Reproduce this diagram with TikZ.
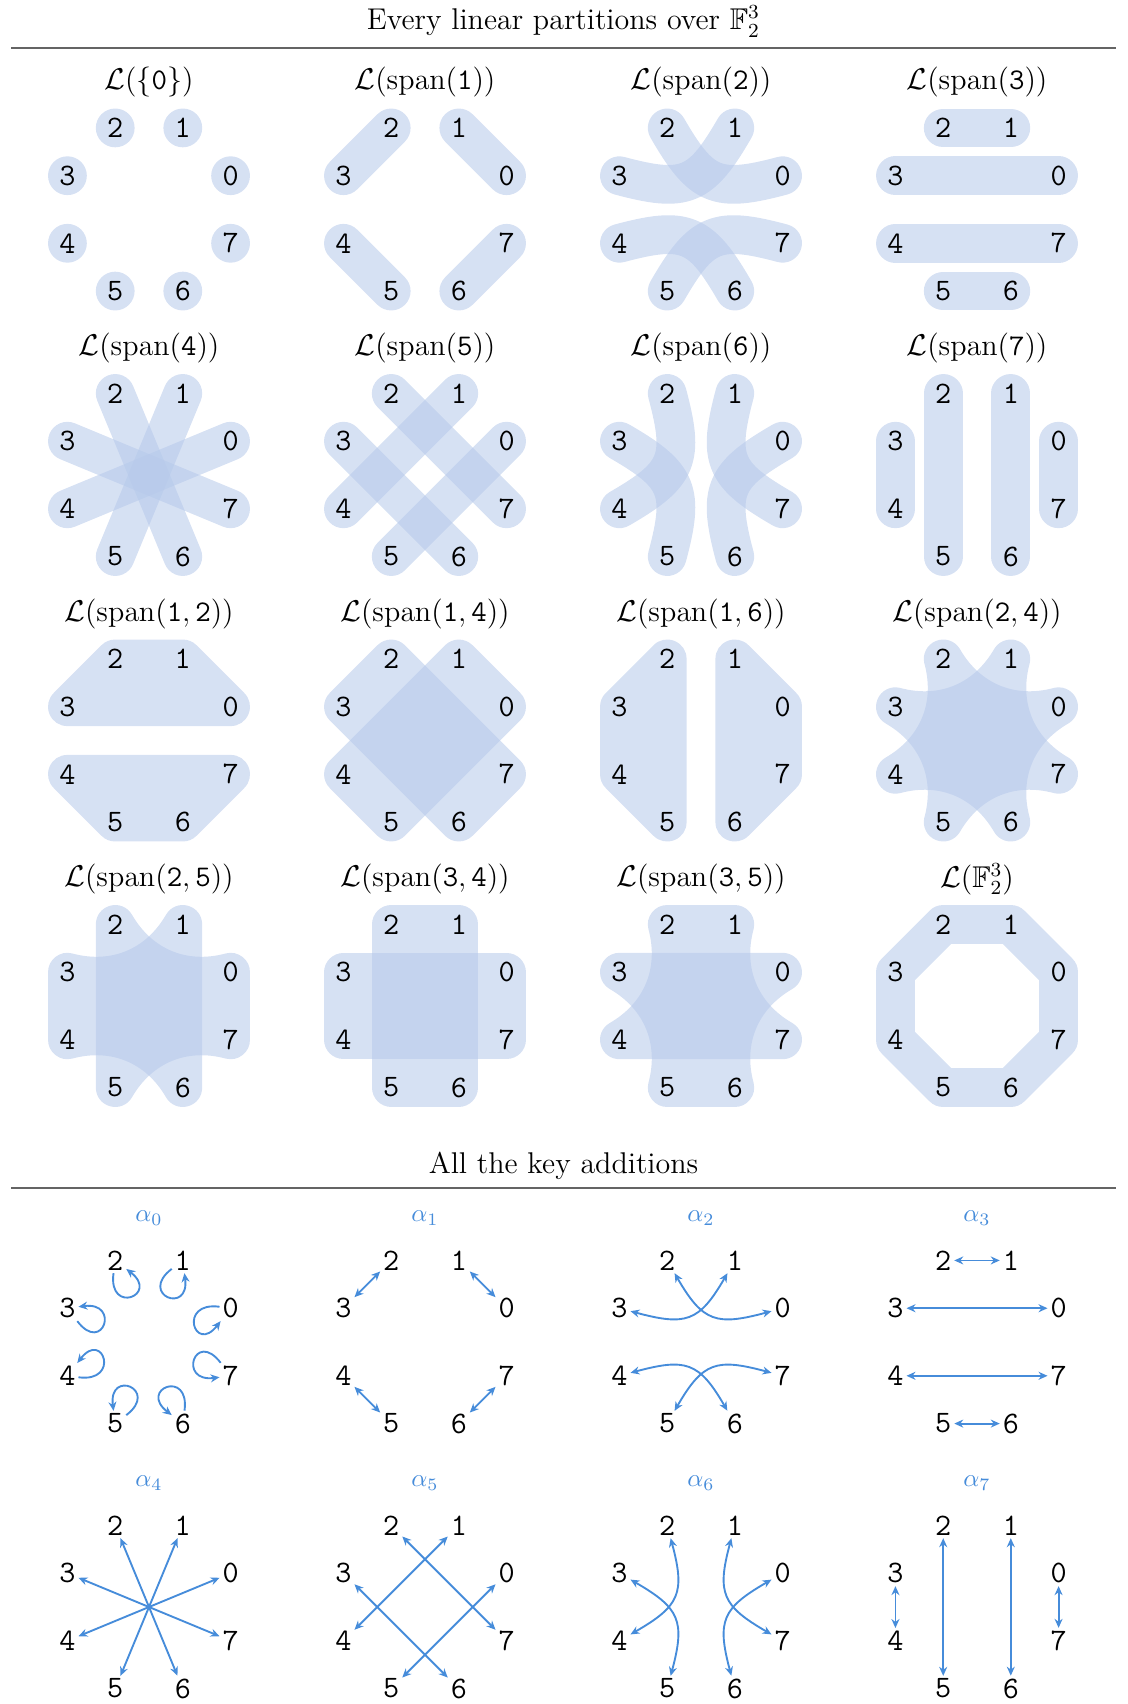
\documentclass[tikz,border=0pt,12pt]{standalone}
\usepackage{amssymb}
\usetikzlibrary{arrows.meta,calc}
\definecolor{blobc}{RGB}{182,201,234}
\definecolor{arrc}{RGB}{70,140,218}
\definecolor{rulec}{RGB}{100,100,100}
\tikzset{
  blob/.style={draw=blobc, draw opacity=0.56, line width=15.5pt, line cap=round, line join=round},
  dotblob/.style={fill=blobc, fill opacity=0.56},
  num/.style={font=\fontsize{12.5}{15}\selectfont\ttfamily, inner sep=1pt},
  ptitle/.style={font=\fontsize{12}{14}\selectfont},
  stitle/.style={font=\fontsize{12}{14}\selectfont},
  alab/.style={text=arrc, font=\fontsize{10}{12}\selectfont},
  seprule/.style={draw=rulec, line width=1pt},
  arr/.style={draw=arrc, line width=0.75pt, {Stealth[length=3.6pt,width=3.2pt]}-{Stealth[length=3.6pt,width=3.2pt]}},
  loopa/.style={draw=arrc, line width=0.75pt, -{Stealth[length=3.6pt,width=3.2pt]}},
}
\newcommand\mkpanel[3]{%
  \foreach \k in {0,...,7}{%
    \coordinate (#1\k) at ({#2+88.3*cos(22.5+45*\k)},{-#3+88.3*sin(22.5+45*\k)});
  }%
}
\newcommand\mknums[1]{%
  \foreach \k in {0,...,7}{\node[num] (#1n\k) at (#1\k) {\k};}%
}
\begin{document}
\begin{tikzpicture}[x=0.4pt,y=0.4pt]
\useasboundingbox (0,0) rectangle (1127,-1704);
% section titles and rules
\node[stitle] (title1) at (563.5,-21.7) {Every linear partitions over $\mathbb{F}_2^3$};
\coordinate (ruleAl) at (11,-47.8); \coordinate (ruleAr) at (1116,-47.8);
\draw[seprule] (ruleAl) -- (ruleAr);
\node[stitle] (title2) at (563.5,-1166) {All the key additions};
\coordinate (ruleBl) at (11,-1188); \coordinate (ruleBr) at (1116,-1188);
\draw[seprule] (ruleBl) -- (ruleBr);
% panel points
\mkpanel{a}{149}{209.5}\mkpanel{b}{425}{209.5}\mkpanel{c}{701}{209.5}\mkpanel{d}{977}{209.5}
\mkpanel{e}{149}{475}\mkpanel{f}{425}{475}\mkpanel{g}{701}{475}\mkpanel{h}{977}{475}
\mkpanel{i}{149}{740.5}\mkpanel{j}{425}{740.5}\mkpanel{k}{701}{740.5}\mkpanel{l}{977}{740.5}
\mkpanel{m}{149}{1006}\mkpanel{n}{425}{1006}\mkpanel{o}{701}{1006}\mkpanel{p}{977}{1006}
\mkpanel{q}{149}{1342}\mkpanel{r}{425}{1342}\mkpanel{s}{701}{1342}\mkpanel{t}{977}{1342}
\mkpanel{u}{149}{1607}\mkpanel{v}{425}{1607}\mkpanel{w}{701}{1607}\mkpanel{x}{977}{1607}
% panel titles
\node[ptitle] (ta) at (149,-82.5) {$\mathcal{L}(\{\mathtt{0}\})$};
\node[ptitle] (tb) at (425,-82.5) {$\mathcal{L}(\mathrm{span}(\mathtt{1}))$};
\node[ptitle] (tc) at (701,-82.5) {$\mathcal{L}(\mathrm{span}(\mathtt{2}))$};
\node[ptitle] (td) at (977,-82.5) {$\mathcal{L}(\mathrm{span}(\mathtt{3}))$};
\node[ptitle] (te) at (149,-348) {$\mathcal{L}(\mathrm{span}(\mathtt{4}))$};
\node[ptitle] (tf) at (425,-348) {$\mathcal{L}(\mathrm{span}(\mathtt{5}))$};
\node[ptitle] (tg) at (701,-348) {$\mathcal{L}(\mathrm{span}(\mathtt{6}))$};
\node[ptitle] (th) at (977,-348) {$\mathcal{L}(\mathrm{span}(\mathtt{7}))$};
\node[ptitle] (ti) at (149,-613.5) {$\mathcal{L}(\mathrm{span}(\mathtt{1},\mathtt{2}))$};
\node[ptitle] (tj) at (425,-613.5) {$\mathcal{L}(\mathrm{span}(\mathtt{1},\mathtt{4}))$};
\node[ptitle] (tk) at (701,-613.5) {$\mathcal{L}(\mathrm{span}(\mathtt{1},\mathtt{6}))$};
\node[ptitle] (tl) at (977,-613.5) {$\mathcal{L}(\mathrm{span}(\mathtt{2},\mathtt{4}))$};
\node[ptitle] (tm) at (149,-879) {$\mathcal{L}(\mathrm{span}(\mathtt{2},\mathtt{5}))$};
\node[ptitle] (tn) at (425,-879) {$\mathcal{L}(\mathrm{span}(\mathtt{3},\mathtt{4}))$};
\node[ptitle] (to) at (701,-879) {$\mathcal{L}(\mathrm{span}(\mathtt{3},\mathtt{5}))$};
\node[ptitle] (tp) at (977,-879) {$\mathcal{L}(\mathbb{F}_2^3)$};
\node[alab] (tq) at (149,-1218) {$\alpha_0$};
\node[alab] (tr) at (425,-1218) {$\alpha_1$};
\node[alab] (ts) at (701,-1218) {$\alpha_2$};
\node[alab] (tt) at (977,-1218) {$\alpha_3$};
\node[alab] (tu) at (149,-1483) {$\alpha_4$};
\node[alab] (tv) at (425,-1483) {$\alpha_5$};
\node[alab] (tw) at (701,-1483) {$\alpha_6$};
\node[alab] (tx) at (977,-1483) {$\alpha_7$};
% ---- blobs ----
% {0}
\foreach \k in {0,...,7}{\fill[dotblob] (a\k) circle (19.4);}
% span(1)
\draw[blob] (b0)--(b1); \draw[blob] (b2)--(b3); \draw[blob] (b4)--(b5); \draw[blob] (b6)--(b7);
% span(2)
\draw[blob] (c0) to[out=195,in=-60,looseness=1.4] (c2);
\draw[blob] (c1) to[out=240,in=-15,looseness=1.4] (c3);
\draw[blob] (c4) to[out=15,in=120,looseness=1.4] (c6);
\draw[blob] (c5) to[out=60,in=165,looseness=1.4] (c7);
% span(3)
\draw[blob] (d0)--(d3); \draw[blob] (d1)--(d2); \draw[blob] (d4)--(d7); \draw[blob] (d5)--(d6);
% span(4)
\draw[blob] (e0)--(e4); \draw[blob] (e1)--(e5); \draw[blob] (e2)--(e6); \draw[blob] (e3)--(e7);
% span(5)
\draw[blob] (f0)--(f5); \draw[blob] (f1)--(f4); \draw[blob] (f2)--(f7); \draw[blob] (f3)--(f6);
% span(6)
\draw[blob] (g2) to[out=285,in=30,looseness=1.4] (g4);
\draw[blob] (g3) to[out=330,in=75,looseness=1.4] (g5);
\draw[blob] (g6) to[out=105,in=210,looseness=1.4] (g0);
\draw[blob] (g7) to[out=150,in=255,looseness=1.4] (g1);
% span(7)
\draw[blob] (h0)--(h7); \draw[blob] (h1)--(h6); \draw[blob] (h2)--(h5); \draw[blob] (h3)--(h4);
% span(1,2)
\draw[blob] (i3)--(i2)--(i1)--(i0)--cycle ($(i3)!.5!(i2)$)--($(i1)!.5!(i0)$);
\draw[blob] (i4)--(i5)--(i6)--(i7)--cycle ($(i4)!.5!(i5)$)--($(i6)!.5!(i7)$);
% span(1,4)
\draw[blob] (j0)--(j1)--(j4)--(j5)--cycle ($(j0)!.5!(j1)$)--($(j4)!.5!(j5)$);
\draw[blob] (j2)--(j3)--(j6)--(j7)--cycle ($(j2)!.5!(j3)$)--($(j6)!.5!(j7)$);
% span(1,6)
\draw[blob] (k1)--(k0)--(k7)--(k6)--cycle ($(k1)!.5!(k0)$)--($(k6)!.5!(k7)$);
\draw[blob] (k2)--(k3)--(k4)--(k5)--cycle ($(k2)!.5!(k3)$)--($(k5)!.5!(k4)$);
% span(2,4)
\draw[blob] (l0) to[out=195,in=-60] (l2) to[out=285,in=30] (l4) to[out=15,in=120] (l6) to[out=105,in=210] (l0) (l0)--(l4) (l2)--(l6);
\draw[blob] (l1) to[out=240,in=-15] (l3) to[out=330,in=75] (l5) to[out=60,in=165] (l7) to[out=150,in=255] (l1) (l1)--(l5) (l3)--(l7);
% span(2,5)
\draw[blob] (m2) to[out=-60,in=195] (m0) -- (m7) to[out=165,in=60] (m5) -- cycle
  ($(m5)!.5!(m2)$)--($(m7)!.5!(m0)$)
  ($(m5)!.5!(m2)+(0,20)$)--($(m7)!.5!(m0)+(0,20)$)
  ($(m5)!.5!(m2)+(0,-20)$)--($(m7)!.5!(m0)+(0,-20)$);
\draw[blob] (m1) to[out=240,in=-15] (m3) -- (m4) to[out=15,in=120] (m6) -- cycle
  ($(m3)!.5!(m4)$)--($(m1)!.5!(m6)$)
  ($(m3)!.5!(m4)+(0,20)$)--($(m1)!.5!(m6)+(0,20)$)
  ($(m3)!.5!(m4)+(0,-20)$)--($(m1)!.5!(m6)+(0,-20)$);
% span(3,4)
\draw[blob] (n3)--(n0)--(n7)--(n4)--cycle ($(n3)!.5!(n4)$)--($(n0)!.5!(n7)$);
\draw[blob] (n2)--(n1)--(n6)--(n5)--cycle ($(n2)!.5!(n1)$)--($(n5)!.5!(n6)$);
% span(3,5)
\draw[blob] (o3) -- (o0) to[out=210,in=105] (o6) -- (o5) to[out=75,in=330] (o3)
  ($(o3)!.5!(o0)$)--($(o5)!.5!(o6)$)
  ($(o3)!.5!(o0)+(20,0)$)--($(o5)!.5!(o6)+(20,0)$)
  ($(o3)!.5!(o0)+(-20,0)$)--($(o5)!.5!(o6)+(-20,0)$);
\draw[blob] (o1) -- (o2) to[out=285,in=30] (o4) -- (o7) to[out=150,in=255] (o1)
  ($(o2)!.5!(o1)$)--($(o4)!.5!(o7)$)
  ($(o2)!.5!(o1)+(20,0)$)--($(o4)!.5!(o7)+(20,0)$)
  ($(o2)!.5!(o1)+(-20,0)$)--($(o4)!.5!(o7)+(-20,0)$);
% F_2^3
\draw[blob] (p0)--(p1)--(p2)--(p3)--(p4)--(p5)--(p6)--(p7)--cycle;
% ---- numbers ----
\mknums{a}\mknums{b}\mknums{c}\mknums{d}\mknums{e}\mknums{f}\mknums{g}\mknums{h}
\mknums{i}\mknums{j}\mknums{k}\mknums{l}\mknums{m}\mknums{n}\mknums{o}\mknums{p}
\mknums{q}\mknums{r}\mknums{s}\mknums{t}\mknums{u}\mknums{v}\mknums{w}\mknums{x}
% ---- arrows ----
% alpha0
\foreach \k in {0,...,7}{%
  \pgfmathsetmacro\ao{22.5+45*\k+150}%
  \pgfmathsetmacro\ai{22.5+45*\k+210}%
  \draw[loopa] (qn\k) to[out=\ao,in=\ai,min distance=17pt] (qn\k);
}
% alpha1
\draw[arr] (rn3)--(rn2); \draw[arr] (rn1)--(rn0); \draw[arr] (rn4)--(rn5); \draw[arr] (rn6)--(rn7);
% alpha2
\draw[arr] (sn0) to[out=195,in=-60,looseness=1.4] (sn2);
\draw[arr] (sn1) to[out=240,in=-15,looseness=1.4] (sn3);
\draw[arr] (sn4) to[out=15,in=120,looseness=1.4] (sn6);
\draw[arr] (sn5) to[out=60,in=165,looseness=1.4] (sn7);
% alpha3
\draw[arr] (tn2)--(tn1); \draw[arr] (tn3)--(tn0); \draw[arr] (tn4)--(tn7); \draw[arr] (tn5)--(tn6);
% alpha4
\draw[arr] (un0)--(un4); \draw[arr] (un1)--(un5); \draw[arr] (un2)--(un6); \draw[arr] (un3)--(un7);
% alpha5
\draw[arr] (vn0)--(vn5); \draw[arr] (vn1)--(vn4); \draw[arr] (vn2)--(vn7); \draw[arr] (vn3)--(vn6);
% alpha6
\draw[arr] (wn2) to[out=285,in=30,looseness=1.4] (wn4);
\draw[arr] (wn3) to[out=330,in=75,looseness=1.4] (wn5);
\draw[arr] (wn6) to[out=105,in=210,looseness=1.4] (wn0);
\draw[arr] (wn7) to[out=150,in=255,looseness=1.4] (wn1);
% alpha7
\draw[arr] (xn3)--(xn4); \draw[arr] (xn2)--(xn5); \draw[arr] (xn1)--(xn6); \draw[arr] (xn0)--(xn7);
\end{tikzpicture}
\end{document}
